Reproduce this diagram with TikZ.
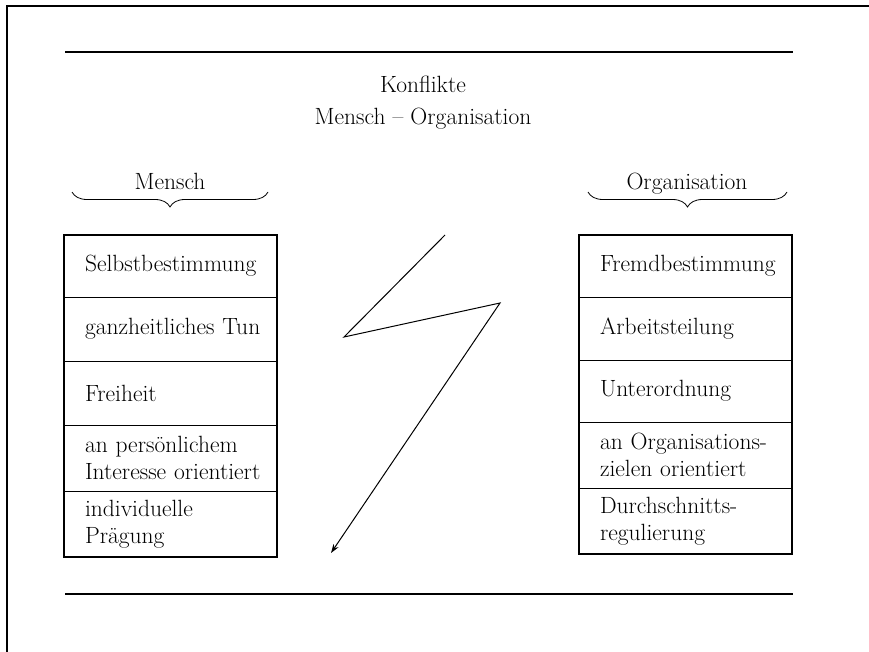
\documentclass[tikz,border=0pt]{standalone}
\usetikzlibrary{positioning,decorations.pathreplacing,arrows.meta}
\tikzset{
  schrift/.style={font=\fontsize{23.5}{27}\selectfont},
  feld/.style={draw, line width=0.8pt, outer sep=0pt, anchor=north west,
    minimum height=#1, text width=213pt, inner xsep=0pt, inner ysep=0pt,
    align=left, execute at begin node={\leftskip=21pt}, schrift},
  rahmen/.style={line width=2pt},
  klammer/.style={decorate, decoration={brace, mirror, amplitude=15pt}, line width=0.8pt},
}
\begin{document}
\begin{tikzpicture}[x=1pt, y=-1pt]
\useasboundingbox (0,0) rectangle (869,652);
    % Blattrand
    \draw[rahmen] (6.5,652) -- (6.5,6.5) -- (869,6.5);
    \draw[line width=1.2pt] (65,52) -- (793,52);
    \draw[line width=1.2pt] (65,594) -- (793,594);
    % Ueberschrift
    \node[schrift, anchor=base] (titel1) at (423,93) {Konflikte};
    \node[schrift, anchor=base] (titel2) at (423,125) {Mensch -- Organisation};
    % Mensch
    \node[schrift, anchor=base] (mensch) at (170,190) {Mensch};
    \draw[klammer] (72,192) -- (268,192);
    \node[feld=62pt] (m1) at (64,235) {Selbstbestimmung};
    \node[feld=64pt, below=0pt of m1] (m2) {ganzheitliches Tun};
    \node[feld=64pt, below=0pt of m2] (m3) {Freiheit};
    \node[feld=66pt, below=0pt of m3] (m4) {an persönlichem\\Interesse orientiert};
    \node[feld=66pt, below=0pt of m4] (m5) {individuelle\\Prägung};
    \draw[rahmen] (m1.north west) rectangle (m5.south east);
    % Organisation
    \node[schrift, anchor=base] (orga) at (687,190) {Organisation};
    \draw[klammer] (588,192) -- (787,192);
    \node[feld=62pt] (o1) at (579,235) {Fremdbestimmung};
    \node[feld=63pt, below=0pt of o1] (o2) {Arbeitsteilung};
    \node[feld=62pt, below=0pt of o2] (o3) {Unterordnung};
    \node[feld=66pt, below=0pt of o3] (o4) {an Organisations-\\zielen orientiert};
    \node[feld=66pt, below=0pt of o4] (o5) {Durchschnitts-\\regulierung};
    \draw[rahmen] (o1.north west) rectangle (o5.south east);
    % Blitz
    \path[coordinate] (445,235) coordinate(B1)
                      (344,337) coordinate(B2)
                      (500,303) coordinate(B3)
                      (331,553) coordinate(B4);
    \draw[line width=1pt, -{Stealth[length=9pt,width=6pt]}] (B1) -- (B2) -- (B3) -- (B4);
\end{tikzpicture}
\end{document}
